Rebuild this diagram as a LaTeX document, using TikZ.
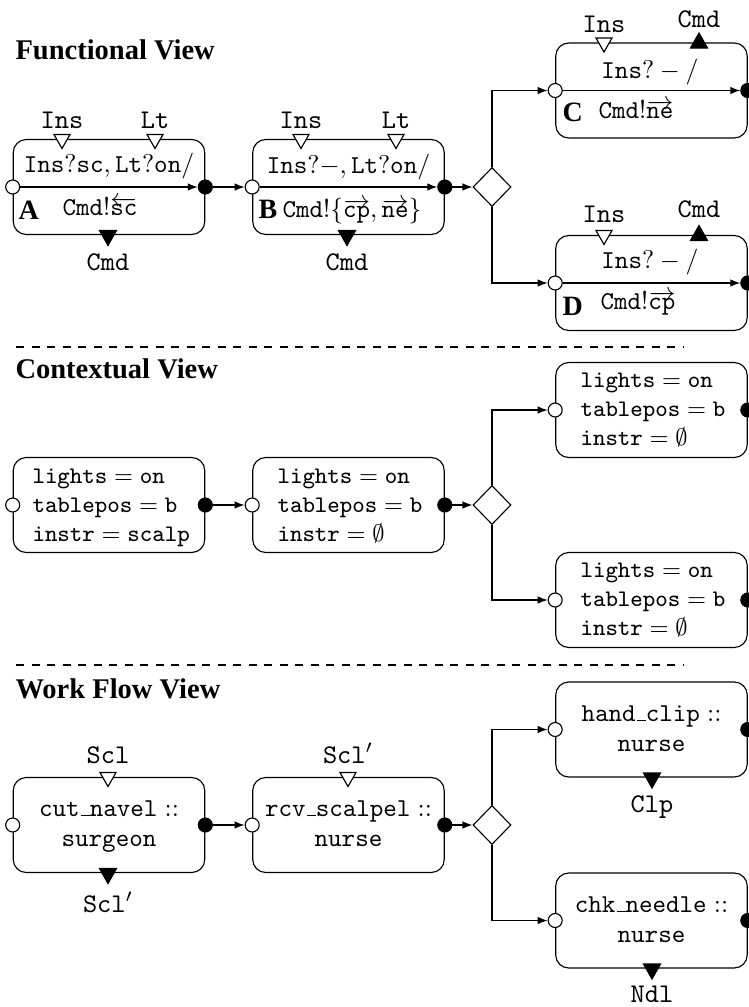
\RequirePackage{fix-cm}
\documentclass[tikz,border=0pt]{standalone}
\usepackage[no-math]{fontspec}
\newfontfamily\titlefont{Liberation Serif}
\usetikzlibrary{shapes.geometric,arrows.meta}
\newcommand\boxf{\fontsize{10.3}{12}\selectfont}
\newcommand\lblf{\fontsize{10.8}{13}\selectfont}
\newcommand\ctxf{\fontsize{9.5}{11}\selectfont}
\newcommand\ttlf{\titlefont\bfseries\fontsize{11.4}{14}\selectfont}
\newcommand\letf{\titlefont\bfseries\fontsize{11.2}{14}\selectfont}
\newcommand\usc{\mbox{\kern.06em\vbox{\hrule width.34em}}}
\newcommand\tIn[2]{\draw[tri,fill=white] (#1-8,#2) -- (#1+8,#2) -- (#1,#2+14) -- cycle;}
\newcommand\tOut[2]{\draw[tri,fill=black] (#1-8.5,#2) -- (#1+8.5,#2) -- (#1,#2+15) -- cycle;}
\newcommand\tUp[2]{\draw[tri,fill=black] (#1-8.5,#2) -- (#1+8.5,#2) -- (#1,#2-15) -- cycle;}
\tikzset{
  every path/.style={line width=0.45pt},
  box/.style={draw, rounded corners=5.2pt, minimum width=76.6pt, minimum height=38pt, inner sep=0pt},
  inport/.style={circle, draw, fill=white, minimum size=5.6pt, inner sep=0pt},
  outport/.style={circle, draw, fill=black, minimum size=5.6pt, inner sep=0pt},
  choice/.style={diamond, draw, fill=white, minimum width=15.2pt, minimum height=15.6pt, inner sep=0pt},
  arr/.style={-{Latex[length=4pt,width=3pt]}},
  tri/.style={line join=miter},
  lbl/.style={font=\lblf, inner sep=0pt, anchor=base},
  txt/.style={font=\boxf, inner sep=0pt, anchor=base},
  txtw/.style={font=\boxf, inner sep=0pt, anchor=base west},
  ctx/.style={font=\ctxf, inner sep=0pt, anchor=base west},
  letter/.style={font=\letf, inner sep=0pt, anchor=base west},
  title/.style={font=\ttlf, inner sep=0pt, anchor=base west},
  sep/.style={dash pattern=on 3.2pt off 3pt}
}
\begin{document}
\begin{tikzpicture}[x=0.4pt,y=-0.4pt]
\useasboundingbox (0,0) rectangle (748,1007);
% ---------------- Functional view
\node[title] (t1) at (15,59) {Functional View};
\node[box] (A) at (109,187) {};
\node[box] (B) at (348.5,187) {};
\node[box] (C) at (651.5,90.5) {};
\node[box] (D) at (651.5,283) {};
\node[choice] (F) at (492,187) {};
\tIn{62}{134.5} \tIn{155}{134.5} \tOut{108}{230.5}
\tIn{301}{134.5} \tIn{396}{134.5} \tOut{347}{230.5}
\tIn{604}{38} \tUp{699}{48}
\tIn{604}{230.5} \tUp{699}{240.5}
\foreach \n in {A,B,C,D}{
  \node[inport] (\n i) at (\n.west) {};
  \node[outport] (\n o) at (\n.east) {};
}
\draw[arr] (Ai) -- (Ao);
\draw[arr] (Bi) -- (Bo);
\draw[arr] (Ci) -- (Co);
\draw[arr] (Di) -- (Do);
\draw[arr] (Ao) -- (Bi);
\draw[arr] (Bo) -- (F);
\draw[arr] (F.north) |- (Ci);
\draw[arr] (F.south) |- (Di);
% labels
\node[lbl] (lA1) at (62,128) {$\mathtt{Ins}$};
\node[lbl] (lA2) at (155,128) {$\mathtt{Lt}$};
\node[lbl] (lA3) at (108,270) {$\mathtt{Cmd}$};
\node[lbl] (lB1) at (301,128) {$\mathtt{Ins}$};
\node[lbl] (lB2) at (396,128) {$\mathtt{Lt}$};
\node[lbl] (lB3) at (347,270) {$\mathtt{Cmd}$};
\node[lbl] (lC1) at (604,32) {$\mathtt{Ins}$};
\node[lbl] (lC2) at (699,27) {$\mathtt{Cmd}$};
\node[lbl] (lD1) at (604,222) {$\mathtt{Ins}$};
\node[lbl] (lD2) at (699,217) {$\mathtt{Cmd}$};
% box texts
\node[txt] (xA1) at (109,172) {$\mathtt{Ins}?\mathtt{sc},\mathtt{Lt}?\mathtt{on}/$};
\node[txtw] (xA2) at (62,215) {$\mathtt{Cmd}!\overleftarrow{\mathtt{sc}}$};
\node[letter] (nA) at (18,219) {A};
\node[txt] (xB1) at (348.5,173) {$\mathtt{Ins}?-,\mathtt{Lt}?\mathtt{on}/$};
\node[txtw] (xB2) at (282,217) {$\mathtt{Cmd}!\{\overrightarrow{\mathtt{cp}},\overrightarrow{\mathtt{ne}}\}$};
\node[letter] (nB) at (258,218) {B};
\node[txt] (xC1) at (650,78) {$\mathtt{Ins}?-/$};
\node[txtw] (xC2) at (598,118) {$\mathtt{Cmd}!\overrightarrow{\mathtt{ne}}$};
\node[letter] (nC) at (562,121) {C};
\node[txt] (xD1) at (650,268) {$\mathtt{Ins}?-/$};
\node[txtw] (xD2) at (600,309) {$\mathtt{Cmd}!\overrightarrow{\mathtt{cp}}$};
\node[letter] (nD) at (562,315) {D};
% ---------------- Contextual view
\draw[sep] (16,347) -- (683,347);
\node[title] (t2) at (15,378) {Contextual View};
\node[box] (E1) at (109,505) {};
\node[box] (E2) at (348.5,505) {};
\node[box] (E3) at (651.5,410) {};
\node[box] (E4) at (651.5,600) {};
\node[choice] (G) at (492,505) {};
\foreach \n in {E1,E2,E3,E4}{
  \node[inport] (\n i) at (\n.west) {};
  \node[outport] (\n o) at (\n.east) {};
}
\draw[arr] (E1o) -- (E2i);
\draw[arr] (E2o) -- (G);
\draw[arr] (G.north) |- (E3i);
\draw[arr] (G.south) |- (E4i);
\node[ctx] (c11) at (32,483) {$\mathtt{lights}=\mathtt{on}$};
\node[ctx] (c12) at (32,512) {$\mathtt{tablepos}=\mathtt{b}$};
\node[ctx] (c13) at (32,541) {$\mathtt{instr}=\mathtt{scalp}$};
\node[ctx] (c21) at (277,483) {$\mathtt{lights}=\mathtt{on}$};
\node[ctx] (c22) at (277,512) {$\mathtt{tablepos}=\mathtt{b}$};
\node[ctx] (c23) at (277,541) {$\mathtt{instr}=\emptyset$};
\node[ctx] (c31) at (580,387) {$\mathtt{lights}=\mathtt{on}$};
\node[ctx] (c32) at (580,416) {$\mathtt{tablepos}=\mathtt{b}$};
\node[ctx] (c33) at (580,445) {$\mathtt{instr}=\emptyset$};
\node[ctx] (c41) at (580,577) {$\mathtt{lights}=\mathtt{on}$};
\node[ctx] (c42) at (580,606) {$\mathtt{tablepos}=\mathtt{b}$};
\node[ctx] (c43) at (580,635) {$\mathtt{instr}=\emptyset$};
% ---------------- Work flow view
\draw[sep] (16,665) -- (683,665);
\node[title] (t3) at (15,698) {Work Flow View};
\node[box] (W1) at (109,825) {};
\node[box] (W2) at (348.5,825) {};
\node[box] (W3) at (651.5,729.5) {};
\node[box] (W4) at (651.5,920.5) {};
\node[choice] (H) at (492,825) {};
\tIn{108}{772.5} \tOut{108}{868.5}
\tIn{348}{772.5}
\tOut{652}{773} \tOut{652}{964}
\foreach \n in {W1,W2,W3,W4}{
  \node[inport] (\n i) at (\n.west) {};
  \node[outport] (\n o) at (\n.east) {};
}
\draw[arr] (W1o) -- (W2i);
\draw[arr] (W2o) -- (H);
\draw[arr] (H.north) |- (W3i);
\draw[arr] (H.south) |- (W4i);
\node[lbl] (lW1) at (108,763) {$\mathtt{Scl}$};
\node[lbl] (lW2) at (108,912) {$\mathtt{Scl}'$};
\node[lbl] (lW3) at (348,763) {$\mathtt{Scl}'$};
\node[lbl] (lW4) at (652,812) {$\mathtt{Clp}$};
\node[lbl] (lW5) at (652,1002) {$\mathtt{Ndl}$};
\node[txt] (w11) at (109,816) {$\mathtt{cut\usc navel}::$};
\node[txt] (w12) at (109,846) {$\mathtt{surgeon}$};
\node[txt] (w21) at (348.5,816) {$\mathtt{rcv\usc scalpel}::$};
\node[txt] (w22) at (348.5,846) {$\mathtt{nurse}$};
\node[txt] (w31) at (651.5,721) {$\mathtt{hand\usc clip}::$};
\node[txt] (w32) at (651.5,751) {$\mathtt{nurse}$};
\node[txt] (w41) at (651.5,912) {$\mathtt{chk\usc needle}::$};
\node[txt] (w42) at (651.5,942) {$\mathtt{nurse}$};
\end{tikzpicture}
\end{document}
